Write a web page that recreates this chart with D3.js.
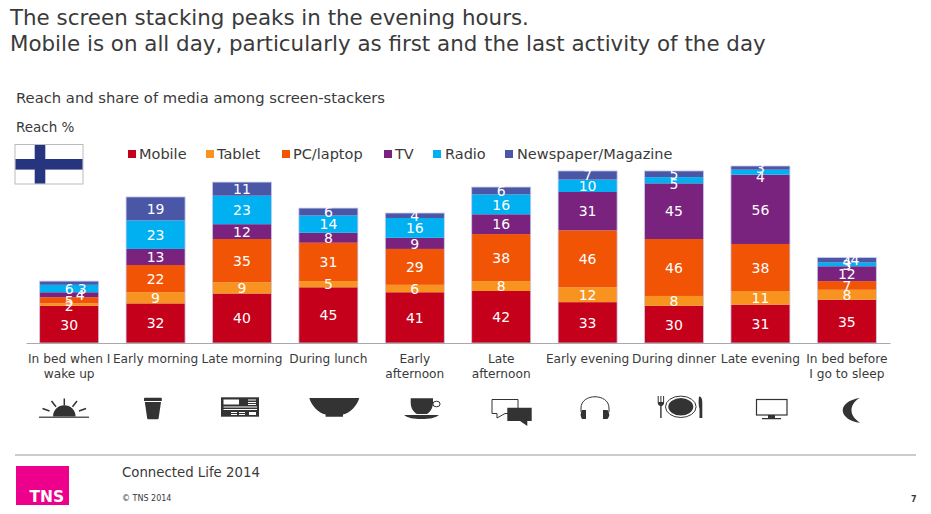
<!DOCTYPE html>
<html>
<head>
<meta charset="utf-8">
<script src="https://cdnjs.cloudflare.com/ajax/libs/d3/7.9.0/d3.min.js"></script>
<style>
  html, body { margin: 0; padding: 0; background: #fff; }
  text { font-family: "DejaVu Sans", sans-serif; fill: #3a3a3a; }
</style>
</head>
<body>
<svg id="chart" width="931" height="514"></svg>
<script>
// data
const categories = ["In bed when I\nwake up", "Early morning", "Late morning", "During lunch", "Early\nafternoon",
  "Late\nafternoon", "Early evening", "During dinner", "Late evening", "In bed before\nI go to sleep"];
const seriesNames = ["Mobile", "Tablet", "PC/laptop", "TV", "Radio", "Newspaper/Magazine"];
const mobile = [30, 32, 40, 45, 41, 42, 33, 30, 31, 35];
const tablet = [2, 9, 9, 5, 6, 8, 12, 8, 11, 8];
const pcLaptop = [5, 22, 35, 31, 29, 38, 46, 46, 38, 7];
const tv = [4, 13, 12, 8, 9, 16, 31, 45, 56, 12];
const radio = [6, 23, 23, 14, 16, 16, 10, 5, 4, 3];
const newspaper = [3, 19, 11, 6, 4, 6, 7, 5, 3, 4];
const colors = ["#c5001a", "#f7931e", "#f25406", "#7a237e", "#00b0f0", "#4a56a6"];

const svg = d3.select("#chart");

// title block
svg.append("text").attr("x", 10).attr("y", 25).attr("font-size", 21.4).text("The screen stacking peaks in the evening hours.");
svg.append("text").attr("x", 10).attr("y", 51).attr("font-size", 21.4).text("Mobile is on all day, particularly as first and the last activity of the day");
svg.append("text").attr("x", 16).attr("y", 103).attr("font-size", 14.75).text("Reach and share of media among screen-stackers");
svg.append("text").attr("x", 16).attr("y", 132).attr("font-size", 13.5).text("Reach %");

// scales
const x = d3.scaleBand().domain(categories).range([26, 890]).paddingInner(0.317).paddingOuter(0.158);
const y = d3.scaleLinear().domain([0, 143]).range([343, 166]);

const rows = categories.map((c, i) => ({
  cat: c, Mobile: mobile[i], Tablet: tablet[i], "PC/laptop": pcLaptop[i], TV: tv[i], Radio: radio[i], "Newspaper/Magazine": newspaper[i]
}));
const stacked = d3.stack().keys(seriesNames)(rows);

// bars
const layers = svg.append("g").selectAll("g").data(stacked).join("g").attr("fill", (d, i) => colors[i]);
layers.selectAll("rect").data(d => d).join("rect")
  .attr("x", d => x(d.data.cat))
  .attr("width", x.bandwidth())
  .attr("y", d => y(d[1]))
  .attr("height", d => y(d[0]) - y(d[1]));

// outline around each column, the picture has a faint light edge
svg.append("g").selectAll("rect").data(rows).join("rect")
  .attr("x", d => x(d.cat))
  .attr("width", x.bandwidth())
  .attr("y", (d, i) => y(d3.sum(stacked, s => s[i][1] - s[i][0])))
  .attr("height", (d, i) => y(0) - y(d3.sum(stacked, s => s[i][1] - s[i][0])))
  .attr("fill", "none").attr("stroke", "#c9c9ec").attr("stroke-width", 0.8);

// nudges for the labels that do not fit their segment, series index + category index
const nudge = {
  "1-0": [0, 1], "2-0": [0, 1], "3-0": [11, 0], "5-0": [13, 6],
  "4-7": [0, 4], "4-8": [0, 5], "5-9": [0, 1.5]
};
stacked.forEach((s, si) => {
  svg.append("g").selectAll("text").data(s).join("text")
    .attr("x", (d, i) => x(d.data.cat) + x.bandwidth() / 2 + (nudge[si + "-" + i] || [0, 0])[0])
    .attr("y", (d, i) => (y(d[0]) + y(d[1])) / 2 + (nudge[si + "-" + i] || [0, 0])[1])
    .attr("dy", "0.37em")
    .attr("text-anchor", "middle")
    .attr("font-size", 14)
    .style("fill", "#fff")
    .text(d => d[1] - d[0]);
});
// the second 4 printed next to the newspaper label on the last column
svg.append("text").attr("x", x(categories[9]) + x.bandwidth() / 2 + 8).attr("y", y(67)).attr("dy", "0.37em")
  .attr("text-anchor", "middle").attr("font-size", 14).style("fill", "#fff").text(4);

// category axis
const axis = svg.append("g").attr("transform", "translate(0,343)")
  .call(d3.axisBottom(x).tickSize(0).tickPadding(0).tickFormat(""));
axis.select(".domain").attr("stroke", "#aaa").attr("stroke-width", 1.2);
axis.selectAll(".tick text").remove();
axis.selectAll(".tick").append("text").attr("text-anchor", "middle").attr("font-size", 12.2)
  .selectAll("tspan").data(d => d.split("\n")).join("tspan")
  .attr("x", 0).attr("y", (d, i) => 20 + i * 15).text(d => d);

// legend
const legendBox = [128, 206, 282, 384, 433, 505];
const legendText = [139, 217, 293, 395, 445, 517];
seriesNames.forEach((n, i) => {
  svg.append("rect").attr("x", legendBox[i]).attr("y", 150).attr("width", 8).attr("height", 8).attr("fill", colors[i]);
  svg.append("text").attr("x", legendText[i]).attr("y", 159).attr("font-size", 14.5).text(n);
});

// flag
svg.append("rect").attr("x", 15).attr("y", 144.5).attr("width", 68).attr("height", 39.5).attr("fill", "#fff").attr("stroke", "#bbb").attr("stroke-width", 1);
svg.append("rect").attr("x", 34.7).attr("y", 145).attr("width", 10.6).attr("height", 38.5).attr("fill", "#27357f");
svg.append("rect").attr("x", 15.5).attr("y", 159).attr("width", 67).attr("height", 10.6).attr("fill", "#27357f");

// icons under the chart
const ic = "#333";
const icons = svg.append("g").attr("fill", ic);
// sunrise
icons.append("rect").attr("x", 39).attr("y", 416.6).attr("width", 50).attr("height", 1.2);
icons.append("path").attr("d", "M53,416.6 A11.3,11.3 0 0 1 75.6,416.6 Z");
icons.append("path").attr("fill", "none").attr("stroke", ic).attr("stroke-width", 1.5)
  .attr("d", "M64.3,398.5 V405.5 M51.5,401 L56,406.8 M77,401 L72.5,406.8 M42.5,408.5 L49.5,411 M86,408.5 L79,411");
// takeaway cup
icons.append("path").attr("d", "M144,398.5 Q144,397.7 145,397.7 H161 Q161.8,397.7 161.8,398.5 V401 H144 Z M144.8,402 H161 L158.6,418.5 Q158.4,419.3 157.6,419.3 H148.2 Q147.4,419.3 147.2,418.5 Z");
// newspaper
icons.append("rect").attr("x", 221).attr("y", 397.3).attr("width", 38).attr("height", 19.4);
icons.append("path").attr("fill", "#fff").attr("d", "M223.5,399.5 H239 V404.5 H223.5 Z M223.5,406.5 H257 V407.5 H223.5 Z M223.5,409 H257 V410 H223.5 Z M231,412 H237 V413 H231 Z M231,414 H237 V415 H231 Z M239,412 H245 V413 H239 Z M239,414 H245 V415 H239 Z M249,412 H256 V415 H249 Z M248,399.5 H256 V400.5 H248 Z M248,402 H256 V403 H248 Z M248,404 H256 V405 H248 Z");
// bowl
icons.append("path").attr("d", "M309.3,398 H359.3 C357,406 350,413 343,414.5 V416.7 H325.6 V414.5 C318.6,413 311.6,406 309.3,398 Z");
// coffee cup
icons.append("path").attr("d", "M410.7,398.3 H433 V403 C433,408 430,412 427,414 H417 C413.5,412 410.7,408 410.7,403 Z M404,415 H439 C435,418 430,419 421.5,419 C413,419 408,418 404,415 Z");
icons.append("ellipse").attr("cx", 436.5).attr("cy", 404).attr("rx", 3.6).attr("ry", 2.8).attr("fill", "none").attr("stroke", ic).attr("stroke-width", 1);
// speech bubbles
icons.append("path").attr("fill", "#fff").attr("stroke", ic).attr("stroke-width", 1).attr("d", "M492,399.5 H518 V413.5 H505 L497,418 V413.5 H492 Z");
icons.append("path").attr("d", "M507.3,407.7 H531.7 V421 H527.3 V426 L520,421 H507.3 Z");
// headphones
icons.append("path").attr("fill", "none").attr("stroke", ic).attr("stroke-width", 1).attr("d", "M581,412 V408 C581,393 609,393 609,408 V412");
icons.append("path").attr("d", "M582,410 H586 V419 H582 Q579.3,414.5 582,410 Z M603,410 H607.5 Q611,414.5 607.5,419 H603 Z");
// plate, fork and knife
icons.append("ellipse").attr("cx", 680.8).attr("cy", 406.8).attr("rx", 15.3).attr("ry", 10.7).attr("fill", "none").attr("stroke", ic).attr("stroke-width", 1);
icons.append("ellipse").attr("cx", 680.8).attr("cy", 406.8).attr("rx", 12.5).attr("ry", 8.7);
icons.append("path").attr("d", "M657.7,396 H658.7 V402 H660.4 V396 H661.4 V402 H663.1 V396 H664.1 V402 Q664.1,405.5 661.6,406 V418 H660.2 V406 Q657.7,405.5 657.7,402 Z");
icons.append("path").attr("d", "M699,396.5 Q702.3,396 702.3,403 V418 H699.5 V409 Q698,404 699,396.5 Z");
// monitor
icons.append("rect").attr("x", 756.5).attr("y", 399.5).attr("width", 30.5).attr("height", 15.5).attr("fill", "none").attr("stroke", ic).attr("stroke-width", 1.2);
icons.append("path").attr("d", "M768,415 H775 V418 H781 V419.2 H762 V418 H768 Z");
// moon
icons.append("path").attr("d", "M860,397.7 C848,400 842.7,405 842.7,410.5 C842.7,416 850,422 860,422.7 C853,418 851.5,414 851.5,410 C851.5,406 854,401 860,397.7 Z");

// footer
svg.append("line").attr("x1", 15).attr("x2", 916).attr("y1", 455).attr("y2", 455).attr("stroke", "#999").attr("stroke-width", 1.2);
svg.append("rect").attr("x", 16).attr("y", 466).attr("width", 53).attr("height", 39).attr("fill", "#ec008c");
svg.append("text").attr("x", 29.5).attr("y", 502).attr("font-size", 15.5).attr("font-weight", "bold").style("fill", "#fff").text("TNS");
svg.append("text").attr("x", 122).attr("y", 477).attr("font-size", 13.3).text("Connected Life 2014");
svg.append("text").attr("x", 122).attr("y", 501).attr("font-size", 8).text("© TNS 2014");
svg.append("text").attr("x", 911).attr("y", 502).attr("font-size", 8).attr("font-weight", "bold").text("7");
</script>
</body>
</html>
